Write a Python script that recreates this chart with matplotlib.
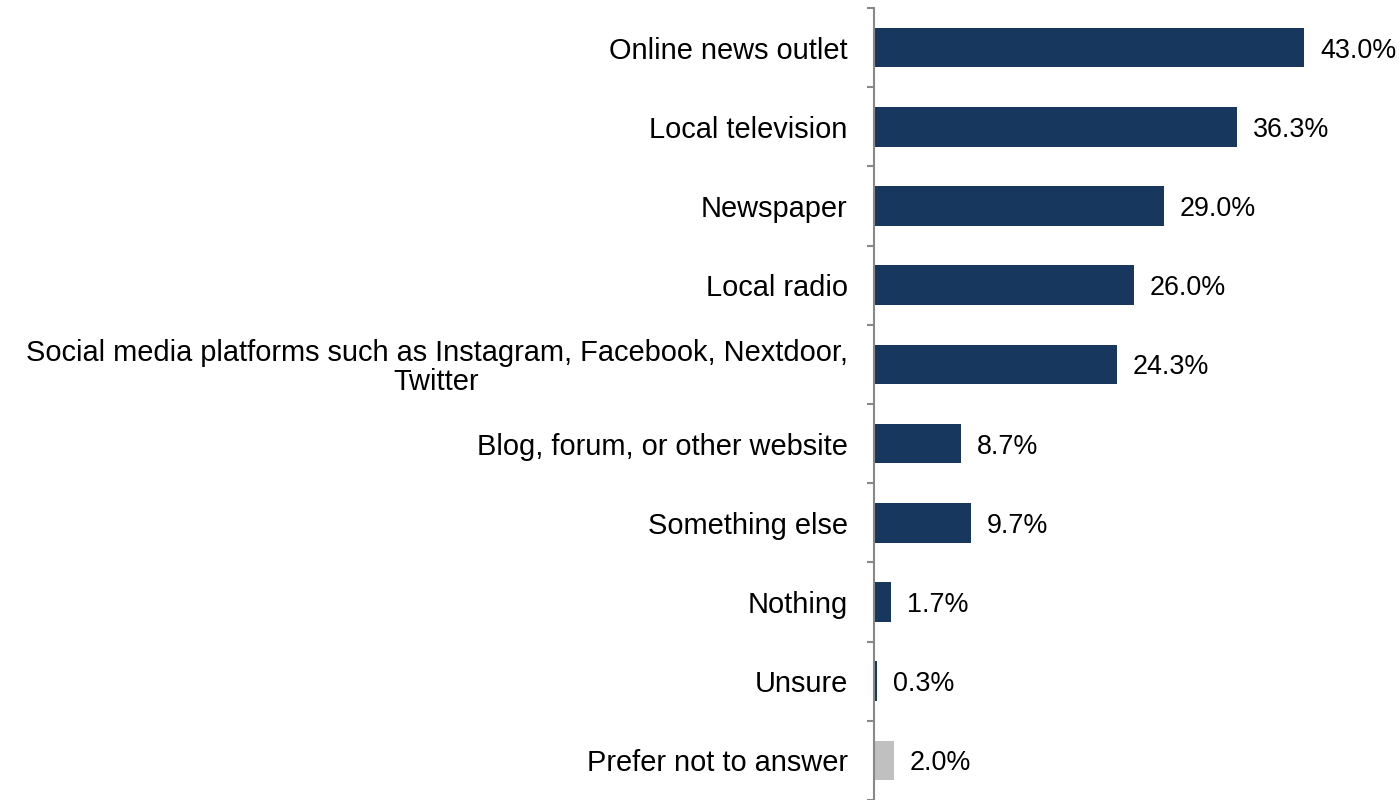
import matplotlib.pyplot as plt
import numpy as np

plt.rcParams['font.family'] = ['Liberation Sans', 'DejaVu Sans']

categories = ['Online news outlet', 'Local television', 'Newspaper', 'Local radio',
              'Social media platforms such as Instagram, Facebook, Nextdoor,\nTwitter',
              'Blog, forum, or other website', 'Something else', 'Nothing', 'Unsure',
              'Prefer not to answer']
shares = [43.0, 36.3, 29.0, 26.0, 24.3, 8.7, 9.7, 1.7, 0.3, 2.0]
colors = ['#17375e'] * 9 + ['#c0c0c0']

fig = plt.figure(figsize=(13.99, 8), dpi=100)
ax = fig.add_axes([874 / 1399, 0.0, 1 - 874 / 1399, 0.99])

y = np.arange(len(categories))
ax.barh(y, shares, height=0.5, color=colors)
for yi, v in zip(y, shares):
    ax.text(v + 1.6, yi, f'{v:.1f}%', va='center_baseline', ha='left', fontsize=19.4)

ax.set_xlim(0, 52.5)
ax.set_ylim(len(categories) - 0.5, -0.5)
ax.set_yticks(y)
ax.set_yticklabels(categories, fontsize=20.9, linespacing=1.02)
ax.set_yticks(np.arange(-0.5, len(categories), 1), minor=True)
ax.tick_params(axis='y', which='major', length=0, pad=19)
ax.tick_params(axis='y', which='minor', length=5, width=1.5, color='#888888')
ax.set_xticks([])
for side in ['top', 'right', 'bottom']:
    ax.spines[side].set_visible(False)
ax.spines['left'].set_color('#888888')
ax.spines['left'].set_linewidth(1.5)

# wrapped label: keep lines centred on each other
for lbl in ax.get_yticklabels():
    lbl.set_multialignment('center')

fig.savefig('out.png', dpi=100)
